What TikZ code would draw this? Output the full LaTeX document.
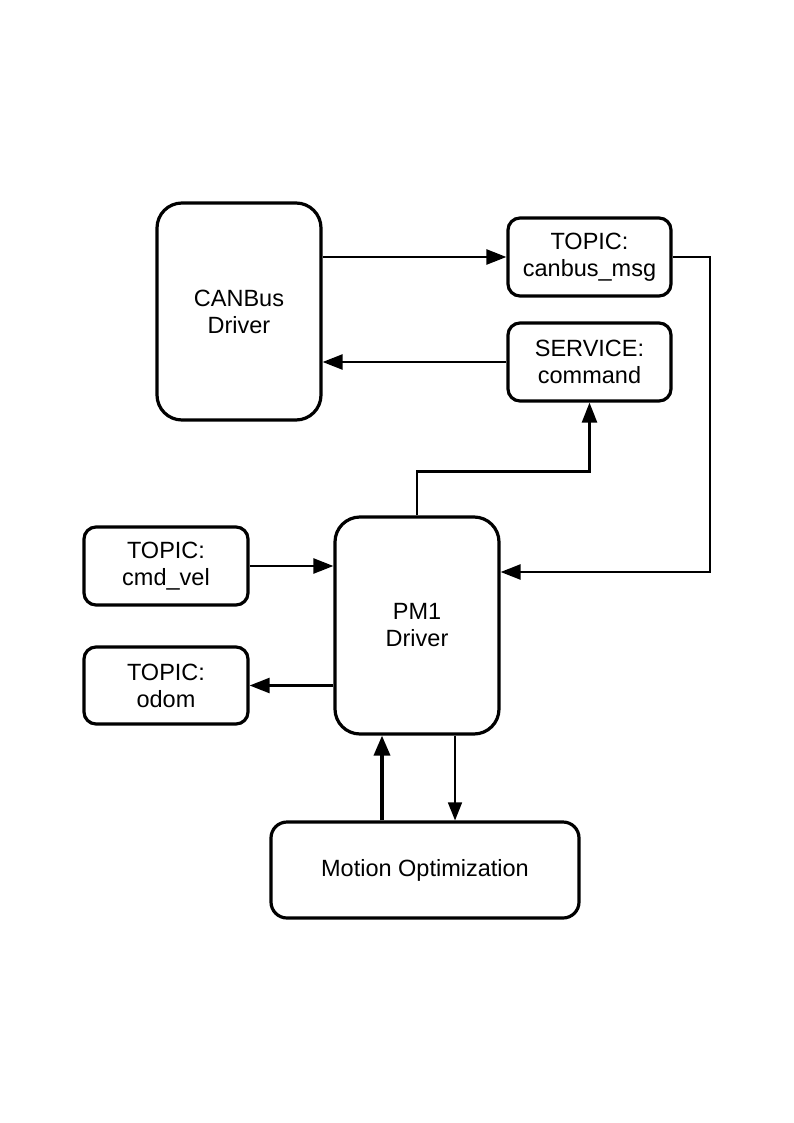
\documentclass[tikz,border=0pt]{standalone}
\usepackage{fontspec}
\setmainfont{Liberation Sans}
\usetikzlibrary{arrows.meta}
\begin{document}
\begin{tikzpicture}[x=1pt,y=-1pt,
  box/.style={draw=black,line width=3.2pt,rounded corners=#1,inner sep=0pt,align=center,
    font=\fontsize{23.5}{27}\selectfont},
  box/.default=12pt,
  arr/.style={line width=2.5pt,-{Triangle[length=20pt,width=15pt]}},
  thinarr/.style={line width=1.5pt,-{Triangle[length=18pt,width=14pt]}},
  thickarr/.style={line width=3.5pt,-{Triangle[length=20pt,width=16pt]}}]
\useasboundingbox[fill=white] (0,0) rectangle (794,1123);
\node[box=25pt,minimum width=164pt,minimum height=217pt] (CAN) at (239,311.5) {CANBus\\Driver};
\node[box,minimum width=163pt,minimum height=78pt] (msg) at (589.5,257) {TOPIC:\\canbus\_msg};
\node[box,minimum width=163pt,minimum height=78pt] (cmd) at (589.5,362) {SERVICE:\\command};
\node[box=25pt,minimum width=164pt,minimum height=217pt] (PM) at (417,625.5) {PM1\\Driver};
\node[box,minimum width=164pt,minimum height=78pt] (vel) at (166,566) {TOPIC:\\cmd\_vel};
\node[box,minimum width=164pt,minimum height=77pt] (odom) at (166,685.5) {TOPIC:\\odom};
\node[box=16pt,minimum width=308pt,minimum height=96pt] (Mo) at (425,870) {Motion Optimization};
\coordinate (j) at (710,572);
\coordinate (u) at (382,0);
\coordinate (d) at (455,0);
\draw[arr] (CAN.east |- msg.west) -- (msg.west);
\draw[arr] (cmd.west) -- (CAN.east |- cmd.west);
\draw[arr] (PM.north) -- ++(0,-44) -| (cmd.south);
\draw[arr] (msg.east) -| (j) -- (PM.east |- j);
\draw[arr] (vel.east) -- (PM.west |- vel.east);
\draw[arr] (PM.west |- odom.east) -- (odom.east);
\draw[thickarr] (Mo.north -| u) -- (PM.south -| u);
\draw[thinarr] (PM.south -| d) -- (Mo.north -| d);
\end{tikzpicture}
\end{document}
